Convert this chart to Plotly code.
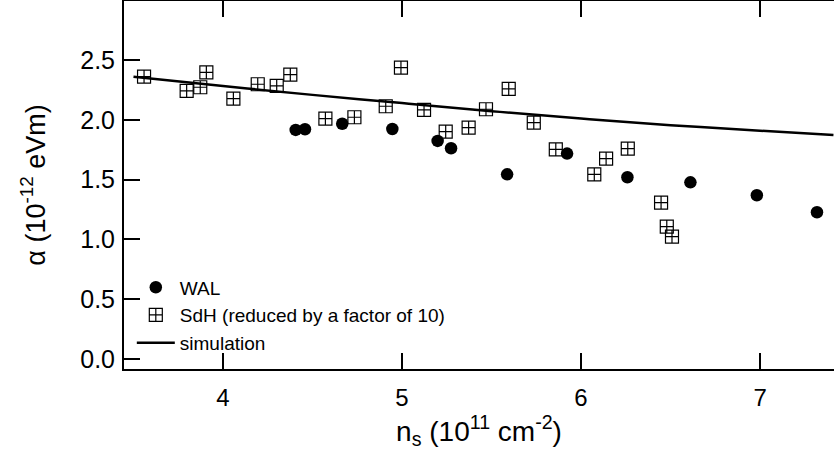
import plotly.graph_objects as go

# WAL data
wal_x = [4.406, 4.458, 4.666, 4.946, 5.199, 5.274, 5.587, 5.922, 6.259, 6.611, 6.982, 7.318]
wal_y = [1.915, 1.921, 1.967, 1.923, 1.823, 1.762, 1.544, 1.717, 1.519, 1.477, 1.369, 1.227]

# SdH data (reduced by a factor of 10)
sdh_x = [3.559, 3.797, 3.873, 3.907, 4.058, 4.194, 4.300, 4.376, 4.572, 4.734, 4.909, 4.994,
         5.123, 5.244, 5.372, 5.469, 5.596, 5.736, 5.859, 6.074, 6.140, 6.261, 6.447, 6.479, 6.508]
sdh_y = [2.361, 2.241, 2.272, 2.397, 2.176, 2.297, 2.283, 2.377, 2.009, 2.021, 2.113, 2.436,
         2.082, 1.901, 1.934, 2.088, 2.258, 1.976, 1.753, 1.544, 1.675, 1.759, 1.307, 1.106, 1.023]

# simulation curve
sim_x = [3.5, 4.0, 4.5, 5.0, 5.5, 6.0, 6.5, 7.0, 7.41]
sim_y = [2.36, 2.282, 2.208, 2.140, 2.072, 2.010, 1.955, 1.908, 1.873]

x_ticks = [4, 5, 6, 7]
y_ticks = [0.0, 0.5, 1.0, 1.5, 2.0, 2.5]

FONT = "Liberation Sans, Arial, Helvetica, sans-serif"

fig = go.Figure()
fig.add_trace(go.Scatter(x=wal_x, y=wal_y, mode="markers", name="WAL",
                         legendgroup="a",
                         marker=dict(symbol="circle", size=12.5, color="black")))
fig.add_trace(go.Scatter(x=sdh_x, y=sdh_y, mode="markers",
                         name="SdH (reduced by a factor of 10)", legendgroup="b",
                         marker=dict(symbol="square-cross-open", size=13, color="black",
                                     line=dict(width=1.2, color="black"))))
fig.add_trace(go.Scatter(x=sim_x, y=sim_y, mode="lines", name="simulation",
                         legendgroup="c", line_shape="spline",
                         line=dict(color="black", width=2.5)))

xr = [3.447, 7.413]
yr = [-0.084, 2.993]

fig.update_layout(
    width=834, height=452,
    margin=dict(l=124, r=0, t=1, b=83),
    paper_bgcolor="white", plot_bgcolor="white",
    font=dict(family=FONT, color="black"),
    showlegend=True,
    legend=dict(x=0.011, y=0.018, xanchor="left", yanchor="bottom",
                bgcolor="rgba(0,0,0,0)", font=dict(size=19, family=FONT),
                itemwidth=38, tracegroupgap=0, traceorder="normal"),
    xaxis=dict(range=xr, tickvals=x_ticks, ticks="inside", ticklen=16, tickwidth=1.5,
               tickcolor="black", showline=True, linewidth=2, linecolor="black",
               mirror="ticks", showgrid=False, zeroline=False,
               tickfont=dict(size=24, family=FONT), ticklabelstandoff=6,
               title=dict(text="n<sub>s</sub> (10<sup>11</sup> cm<sup>-2</sup>)",
                          font=dict(size=28, family=FONT), standoff=6)),
    yaxis=dict(range=yr, tickvals=y_ticks, tickformat=".1f", ticks="inside", ticklen=16,
               tickwidth=1.5, tickcolor="black", showline=True, linewidth=2,
               linecolor="black", showgrid=False, zeroline=False,
               tickfont=dict(size=25, family=FONT), ticklabelstandoff=2,
               title=dict(text="α (10<sup>-12</sup> eVm)",
                          font=dict(size=27, family=FONT), standoff=27)),
    yaxis2=dict(range=yr, tickvals=y_ticks, overlaying="y", side="right", anchor="x",
                ticks="inside", ticklen=9, tickwidth=1.5, tickcolor="black",
                showticklabels=False, showline=False, showgrid=False, zeroline=False),
)

fig.write_html("out.html")
